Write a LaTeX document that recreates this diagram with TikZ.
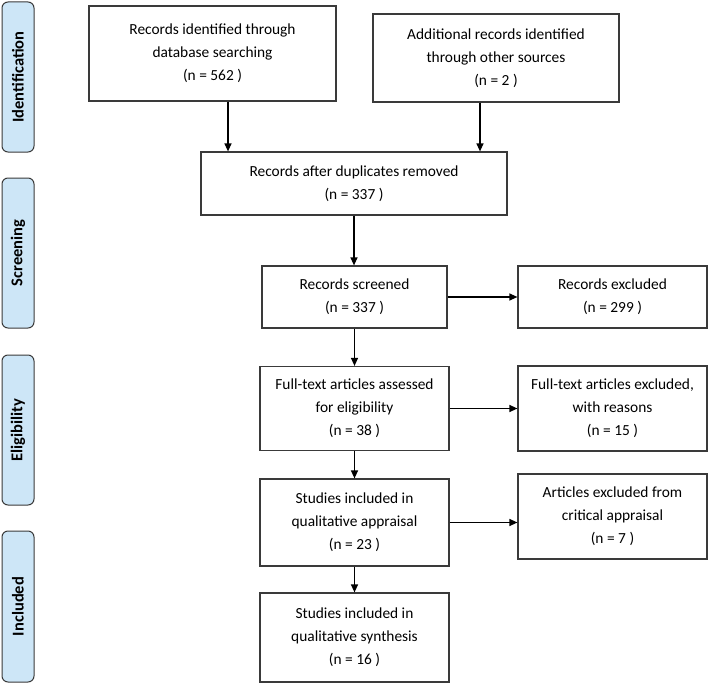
\documentclass[tikz,border=0pt]{standalone}
\usepackage{fontspec}
\setmainfont{Carlito}
\usetikzlibrary{arrows.meta}
\definecolor{sidefill}{HTML}{CDE6F7}
\definecolor{lineg}{HTML}{3A3A3A}
\begin{document}
\begin{tikzpicture}[x=1pt,y=-1pt,
  box/.style={draw=lineg,line width=1.2pt,rectangle,align=center,inner sep=0pt,
    font=\fontsize{15.4}{23}\selectfont},
  side/.style={draw=lineg,line width=1pt,fill=sidefill,rounded corners=6pt,minimum width=32pt,
    inner sep=0pt},
  sidetext/.style={rotate=90,font=\fontsize{16.5}{18}\selectfont\bfseries},
  arr/.style={-{Triangle[length=8pt,width=7pt]},line width=1.2pt,draw=black}]
\useasboundingbox (0,0) rectangle (709,685);
\node[side,minimum height=150pt] (s1) at (18,77) {};
\node[sidetext] (s1t) at (s1.center) {Identification};
\node[side,minimum height=150pt] (s2) at (18,253) {};
\node[sidetext] (s2t) at (s2.center) {Screening};
\node[side,minimum height=150pt] (s3) at (18,430) {};
\node[sidetext] (s3t) at (s3.center) {Eligibility};
\node[side,minimum height=151pt] (s4) at (18,606.5) {};
\node[sidetext] (s4t) at (s4.center) {Included};

\node[box,minimum width=247pt,minimum height=95pt] (b1) at (212.5,53.5) {Records identified through\\database searching\\(n = 562 )};
\node[box,minimum width=246pt,minimum height=88pt] (b2) at (496,58) {Additional records identified\\through other sources\\(n = 2 )};
\node[box,minimum width=306pt,minimum height=63pt] (b3) at (354,183.5) {Records after duplicates removed\\(n = 337 )};
\node[box,minimum width=185pt,minimum height=62pt] (b4) at (354.5,297) {Records screened\\(n = 337 )};
\node[box,minimum width=189pt,minimum height=62pt] (b5) at (612.5,297) {Records excluded\\(n = 299 )};
\node[box,minimum width=189pt,minimum height=84pt] (b6) at (354.5,408.5) {Full-text articles assessed\\for eligibility\\(n = 38 )};
\node[box,minimum width=189pt,minimum height=85pt] (b7) at (612.5,408.5) {Full-text articles excluded,\\with reasons\\(n = 15 )};
\node[box,minimum width=189pt,minimum height=87pt] (b8) at (354.5,522.5) {Studies included in\\qualitative appraisal\\(n = 23 )};
\node[box,minimum width=189pt,minimum height=85pt] (b9) at (612.5,516.5) {Articles excluded from\\critical appraisal\\(n = 7 )};
\node[box,minimum width=189pt,minimum height=89pt] (b10) at (354.5,637.5) {Studies included in\\qualitative synthesis\\(n = 16 )};

\draw[arr] ([xshift=15.5pt]b1.south) -- ([xshift=15.5pt]b1.south |- b3.north);
\draw[arr] ([xshift=-16pt]b2.south) -- ([xshift=-16pt]b2.south |- b3.north);
\draw[arr] (b3.south) -- (b3.south |- b4.north);
\draw[arr] (b4.east) -- (b5.west);
\draw[arr] (b4.south) -- (b4.south |- b6.north);
\draw[arr] (b6.east) -- (b6.east -| b7.west);
\draw[arr] (b6.south) -- (b8.north);
\draw[arr] (b8.east) -- (b8.east -| b9.west);
\draw[arr] (b8.south) -- (b10.north);
\end{tikzpicture}
\end{document}
